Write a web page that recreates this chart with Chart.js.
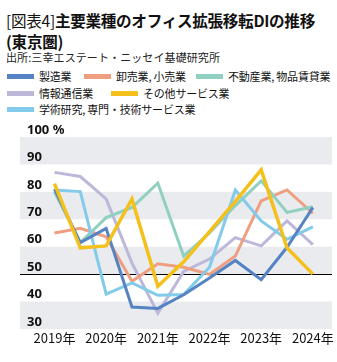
<!DOCTYPE html>
<html lang="ja">
<head>
<meta charset="utf-8">
<script src="https://cdn.jsdelivr.net/npm/chart.js@4"></script>
<style>
  body { margin: 0; width: 337px; height: 362px; background: #fff; position: relative; overflow: hidden;
         font-family: "Noto Sans CJK JP", "Noto Sans", sans-serif; color: #111; }
  .title { position: absolute; left: 6px; top: 10px; font-size: 15.6px; font-weight: bold;
           line-height: 20.5px; letter-spacing: -0.3px; white-space: nowrap; }
  .title .tag { font-weight: normal; }
  .source { position: absolute; left: 6px; top: 49px; font-size: 11px; letter-spacing: 0.1px; color: #222; white-space: nowrap; }
  .legend-item { position: absolute; font-size: 11px; line-height: 16px; height: 16px; white-space: nowrap; letter-spacing: -0.2px; }
  .legend-item .swatch { position: absolute; width: 27px; height: 5px; top: 6px; }
  #wrap { position: absolute; left: 0; top: 120px; width: 337px; height: 242px; }
</style>
</head>
<body>
<div class="title"><span class="tag">[図表4]</span>主要業種のオフィス拡張移転DIの推移<br>(東京圏)</div>
<div class="source">出所:三幸エステート・ニッセイ基礎研究所</div>
<div id="legend"></div>
<div id="wrap"><canvas id="chart"></canvas></div>

<script>
// half-year periods, 2019 H1 .. 2024 H1
const periods = ['2019上', '2019下', '2020上', '2020下', '2021上', '2021下',
                 '2022上', '2022下', '2023上', '2023下', '2024上'];
const yearLabels = ['2019年', '2020年', '2021年', '2022年', '2023年', '2024年'];

const seriesNames = ['製造業', '卸売業, 小売業', '不動産業, 物品賃貸業',
                     '情報通信業', 'その他サービス業', '学術研究, 専門・技術サービス業'];

const manufacturing   = [81, 61.5, 66.7, 38, 37.5, 42.5, 48.6, 55, 48, 59.8, 74.3];
const wholesaleRetail = [65, 66.7, 63.6, 47.4, 53.8, 52.5, 49.9, 56.6, 76.7, 80.7, 72.2];
const realEstate      = [80, 61.5, 70.6, 74.3, 83.2, 56.6, 65, 75, 84, 72.5, 74.6];
const infoComm        = [87.1, 85.6, 77.4, 54, 35.8, 51, 55.5, 63.3, 60.3, 69.4, 60.8];
const otherServices   = [83, 59.6, 60.3, 77.4, 45.6, 54.5, 65.5, 76.5, 88, 59.6, 50];
const academic        = [80.7, 80.1, 42.7, 46.8, 42.3, 42.6, 52.5, 80.7, 69.4, 62.7, 67.2];

const seriesValues = [manufacturing, wholesaleRetail, realEstate, infoComm, otherServices, academic];
const colors = ['#5583c3', '#ef9f80', '#90d0c1', '#bdb7da', '#f3c01c', '#82cbea'];
const drawOrder = [1, 4, 3, 5, 0, 2];   // lower = drawn on top

// legend positions (left, top) per item
const legendPos = [[7, 68], [84, 68], [196, 68], [7, 85], [111, 85], [7, 101]];
const legendEl = document.getElementById('legend');
seriesNames.forEach((name, i) => {
    const item = document.createElement('div');
    item.className = 'legend-item';
    item.style.left = legendPos[i][0] + 'px';
    item.style.top = legendPos[i][1] + 'px';
    item.innerHTML = '<span class="swatch" style="background:' + colors[i] + '"></span>' +
                     '<span style="margin-left:32px">' + name + '</span>';
    legendEl.appendChild(item);
});

const bandPlugin = {
    id: 'bands',
    beforeDraw(chart) {
        const { ctx, chartArea, scales: { y } } = chart;
        ctx.save();
        ctx.fillStyle = '#e9ebee';
        for (let v = 30; v < 100; v += 20) {
            const top = y.getPixelForValue(v + 10);
            const bottom = y.getPixelForValue(v);
            ctx.fillRect(chartArea.left, top, chartArea.right - chartArea.left, bottom - top);
        }
        ctx.restore();
    }
};

new Chart(document.getElementById('chart'), {
    type: 'line',
    data: {
        datasets: seriesNames.map((name, i) => ({
            label: name,
            data: seriesValues[i].map((v, j) => ({ x: j, y: v })),
            borderColor: colors[i],
            borderWidth: i === 4 ? 3.5 : 3,
            pointRadius: 0,
            tension: 0,
            fill: false,
            order: drawOrder[i]
        }))
    },
    options: {
        responsive: true,
        maintainAspectRatio: false,
        animation: false,
        layout: { padding: { left: 6, right: 5, top: 17, bottom: 17 } },
        plugins: { legend: { display: false }, tooltip: { enabled: false } },
        scales: {
            x: {
                type: 'linear',
                min: -36 / 27,
                max: 10 + 20 / 27,
                grid: { display: false, drawTicks: false },
                border: { display: false },
                afterFit: (scale) => { scale.height = 16; },
                ticks: {
                    stepSize: 2,
                    includeBounds: false,
                    autoSkip: false,
                    maxRotation: 0,
                    padding: 1,
                    color: '#111',
                    font: { family: "'Noto Sans CJK JP', sans-serif", size: 13 },
                    callback: (v) => Number.isInteger(v / 2) ? yearLabels[v / 2] : ''
                }
            },
            y: {
                min: 30,
                max: 100,
                grid: {
                    drawTicks: false,
                    color: (c) => c.tick && c.tick.value === 50 ? '#000' : 'rgba(0,0,0,0)',
                    lineWidth: 1
                },
                border: { display: false },
                ticks: {
                    stepSize: 10,
                    mirror: true,
                    padding: 7,
                    labelOffset: -7,
                    color: '#111',
                    font: { family: "'Noto Sans', sans-serif", size: 13, weight: 'bold' },
                    callback: (v) => v === 100 ? '100 %' : v
                }
            }
        }
    },
    plugins: [bandPlugin]
});
</script>
</body>
</html>
